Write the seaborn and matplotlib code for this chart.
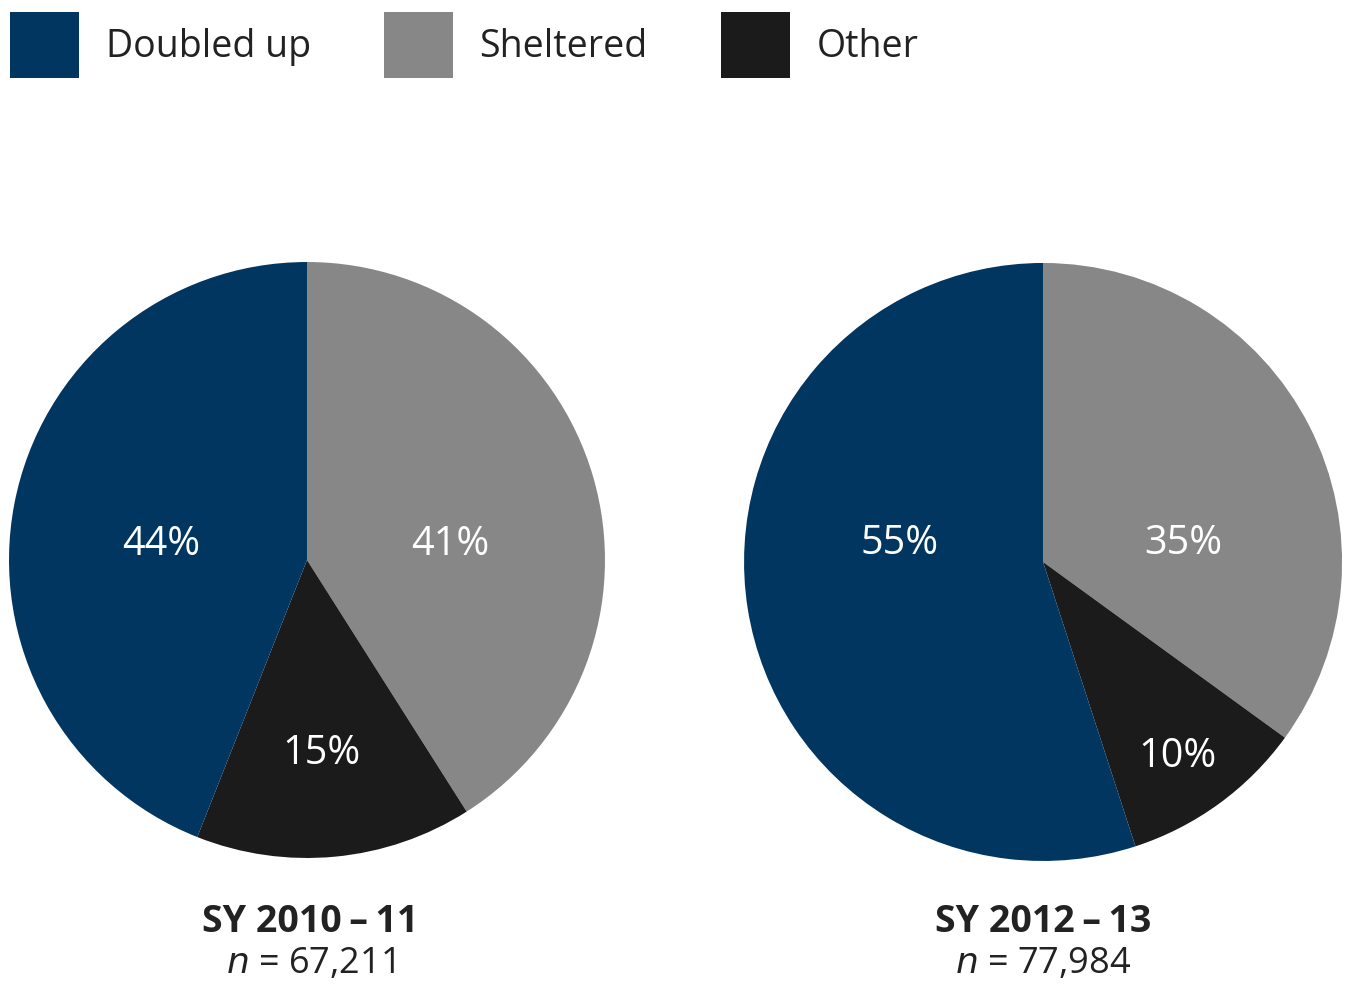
import matplotlib
matplotlib.use("Agg")
import matplotlib.pyplot as plt
from matplotlib.patches import Patch
import seaborn as sns

# data (clockwise from 12 o'clock)
categories = ['Sheltered', 'Other', 'Doubled up']
share_2010 = [41, 15, 44]
share_2012 = [35, 10, 55]
years = ['SY 2010\u2009\u2013\u200911', 'SY 2012\u2009\u2013\u200913']
n_labels = ['67,211', '77,984']
legend_order = ['Doubled up', 'Sheltered', 'Other']

colors = {'Doubled up': '#003660', 'Sheltered': '#878787', 'Other': '#1b1b1b'}

sns.set_theme(style="white")
plt.rcParams['font.family'] = ['Open Sans', 'DejaVu Sans']

fig = plt.figure(figsize=(13.45, 9.86), dpi=100)

# axes boxes for the two pies, in figure fractions
boxes = [[0.0067, 0.1298, 0.4431, 0.6045],
         [0.5532, 0.1268, 0.4446, 0.6065]]
# label positions inside each pie (same order as categories)
label_pos = [[(0.48, 0.05), (0.05, -0.65), (-0.49, 0.05)],
             [(0.47, 0.06), (0.45, -0.65), (-0.48, 0.06)]]
title_x = [0.2305, 0.7755]

for box, vals, pos, yr, nl, tx in zip(boxes, [share_2010, share_2012], label_pos,
                                      years, n_labels, title_x):
    ax = fig.add_axes(box)
    ax.pie(vals, colors=[colors[c] for c in categories], startangle=90, counterclock=False,
           radius=1, wedgeprops=dict(linewidth=0))
    ax.set_xlim(-1, 1)
    ax.set_ylim(-1, 1)
    ax.set_aspect('equal')
    ax.axis('off')
    for v, (x, y) in zip(vals, pos):
        ax.text(x, y, f'{v}%', color='white', fontsize=28.5, ha='center', va='center')
    fig.text(tx, 0.0649, yr, fontsize=27, fontweight='bold', color='#222222',
             ha='center', va='center')
    fig.text(tx, 0.0223, r'$\mathit{n}$' + ' = ' + nl, fontsize=26, color='#222222',
             ha='center', va='center')

handles = [Patch(facecolor=colors[c], edgecolor='none') for c in legend_order]
fig.legend(handles, legend_order, loc='upper left', bbox_to_anchor=(0.0075, 0.988),
           ncol=3, frameon=False, fontsize=27, handlelength=1.85, handleheight=2.35,
           handletextpad=0.7, columnspacing=1.95, borderaxespad=0, borderpad=0,
           labelcolor='#222222')

fig.savefig('out.png', dpi=100)
